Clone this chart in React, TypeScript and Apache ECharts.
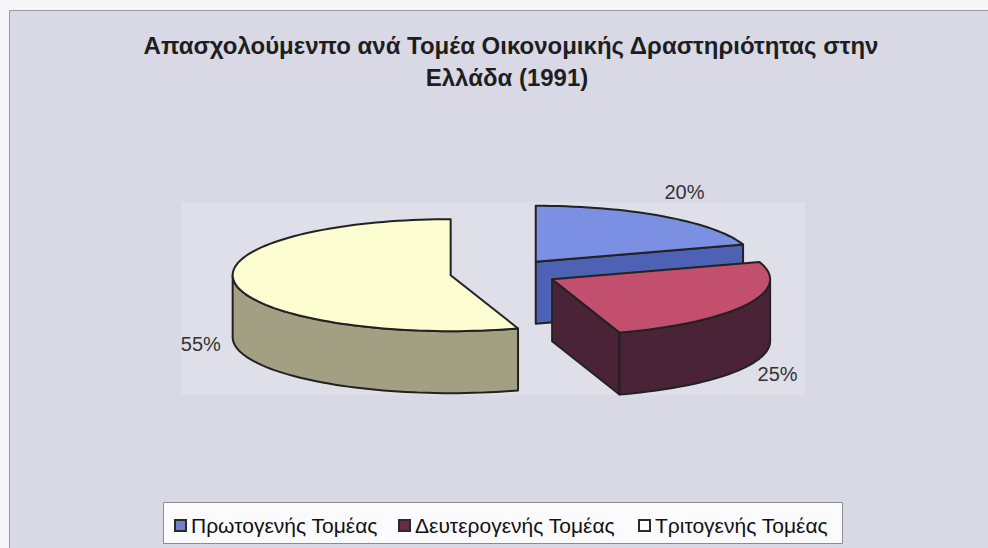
import React, { useEffect, useRef } from 'react';
import * as echarts from 'echarts';

const titleLines = ['Απασχολούμενπο ανά Τομέα Οικονομικής Δραστηριότητας στην', 'Ελλάδα (1991)'];
const categories = ['Πρωτογενής Τομέας', 'Δευτερογενής Τομέας', 'Τριτογενής Τομέας'];
const values = [20, 25, 55];
const topColors = ['#7b8fe3', '#c24f6e', '#fdfdd2'];
const sideColors = ['#4d62b5', '#4a2436', '#a39f82'];
const legendColors = ['#6f7fc8', '#6a2c44', '#ffffff'];

const PIE = { cx: 504, cy: 273, rx: 218, ry: 56, depth: 62, explode: 54 };
const LEGEND_LEFT = [169, 393, 633];
const FONT = '"Liberation Sans", Arial, sans-serif';

const total = values.reduce((a, b) => a + b, 0);
const starts = values.map((_, i) => values.slice(0, i).reduce((a, b) => a + b, 0));

const rad = (d: number) => (d * Math.PI) / 180;

function renderSlice(i: number) {
  return (_params: any, api: any) => {
    const v = api.value(0) as number;
    const a0 = (starts[i] / total) * 360;
    const a1 = a0 + (v / total) * 360;
    const mid = (a0 + a1) / 2;
    const k = PIE.ry / PIE.rx;
    const px = PIE.cx + PIE.explode * Math.sin(rad(mid));
    const py = PIE.cy - PIE.explode * k * Math.cos(rad(mid));
    const pt = (t: number, z: number) => [px + PIE.rx * Math.sin(rad(t)), py - PIE.ry * Math.cos(rad(t)) + z];
    const arc = (s: number, e: number, z: number) => {
      const pts: number[][] = [];
      const n = Math.max(2, Math.ceil(Math.abs(e - s) / 2));
      for (let j = 0; j <= n; j++) pts.push(pt(s + ((e - s) * j) / n, z));
      return pts;
    };
    const stroke = { stroke: '#222', lineWidth: 2, lineJoin: 'round' };
    const children: any[] = [];
    const faceVisible = (normal: number) => Math.cos(rad(normal)) < -1e-6;
    const cutFace = (t: number) => ({
      type: 'polygon',
      shape: { points: [[px, py], pt(t, 0), pt(t, PIE.depth), [px, py + PIE.depth]] },
      style: { fill: sideColors[i], ...stroke },
    });
    if (faceVisible(a0 - 90)) children.push(cutFace(a0));
    if (faceVisible(a1 + 90)) children.push(cutFace(a1));
    const s = Math.max(a0, 90);
    const e = Math.min(a1, 270);
    if (e > s) {
      children.push({
        type: 'polygon',
        shape: { points: [...arc(s, e, 0), ...arc(e, s, PIE.depth)] },
        style: { fill: sideColors[i], ...stroke },
      });
    }
    children.push({
      type: 'polygon',
      shape: { points: [[px, py], ...arc(a0, a1, 0)] },
      style: { fill: topColors[i], ...stroke },
    });
    const front = Math.cos(rad(mid)) < 0;
    const lx = px + (PIE.rx + 35) * Math.sin(rad(mid));
    const ly = py - (PIE.ry + 30) * Math.cos(rad(mid)) + (front ? PIE.depth * 0.9 : 0);
    children.push({
      type: 'text',
      x: lx,
      y: ly,
      style: { text: `${v}%`, fill: '#333', font: `20px ${FONT}`, align: 'center', verticalAlign: 'middle' },
    });
    return { type: 'group', children };
  };
}

export default function App() {
  const ref = useRef<HTMLDivElement>(null);
  useEffect(() => {
    if (!ref.current) return;
    const chart = echarts.init(ref.current, undefined, { renderer: 'svg' });
    chart.setOption({
      animation: false,
      backgroundColor: '#f6f6f8',
      graphic: [
        { type: 'rect', z: -10, shape: { x: 9.5, y: 10.5, width: 1000, height: 560 }, style: { fill: '#d8d9e5', stroke: '#9a9aa4', lineWidth: 1 } },
        { type: 'rect', z: -9, shape: { x: 181, y: 202, width: 624, height: 193 }, style: { fill: '#dedfe8' } },
        { type: 'rect', z: -8, shape: { x: 163.5, y: 502.5, width: 679, height: 41 }, style: { fill: '#fbfbfd', stroke: '#8c8c8c', lineWidth: 1 } },
        { type: 'text', z: 50, x: 511, y: 45, style: { text: titleLines[0], fill: '#1e1e1e', font: `bold 24px ${FONT}`, align: 'center', verticalAlign: 'middle' } },
        { type: 'text', z: 50, x: 507, y: 77, style: { text: titleLines[1], fill: '#1e1e1e', font: `bold 24px ${FONT}`, align: 'center', verticalAlign: 'middle' } },
      ],
      legend: categories.map((name, i) => ({
        left: LEGEND_LEFT[i],
        top: 510,
        icon: 'rect',
        itemWidth: 11,
        itemHeight: 11,
        selectedMode: false,
        textStyle: { fontSize: 21, fontFamily: FONT, color: '#111' },
        data: [{ name, itemStyle: { color: legendColors[i], borderColor: '#2a2a2a', borderWidth: 2 } }],
      })),
      series: categories.map((name, i) => ({
        type: 'custom',
        name,
        coordinateSystem: 'none',
        silent: true,
        renderItem: renderSlice(i),
        itemStyle: { color: legendColors[i] },
        data: [[values[i]]],
      })),
    });
    return () => chart.dispose();
  }, []);
  return <div ref={ref} style={{ position: 'absolute', left: 0, top: 0, width: 988, height: 548 }} />;
}
